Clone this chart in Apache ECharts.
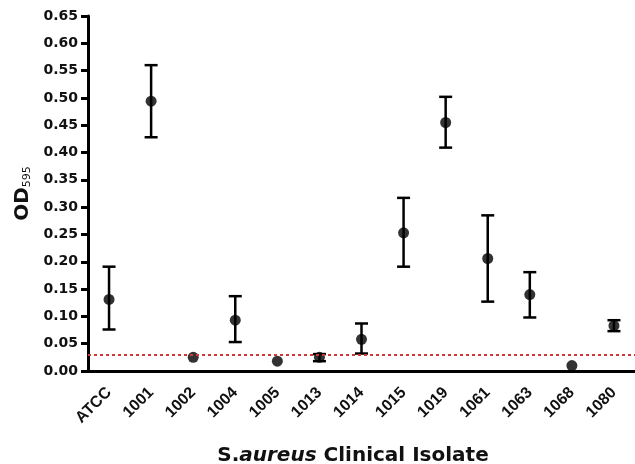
<!DOCTYPE html>
<html>
<head>
<meta charset="utf-8">
<script src="https://cdn.jsdelivr.net/npm/echarts@6/dist/echarts.min.js"></script>
<style>
  html, body { margin: 0; padding: 0; background: #fff; }
  #chart { width: 635px; height: 464px; }
</style>
</head>
<body>
<div id="chart"></div>
<script>
/* Biofilm OD595 per S. aureus isolate, mean with error bars */
const categories = ["ATCC", "1001", "1002", "1004", "1005", "1013", "1014", "1015", "1019", "1061", "1063", "1068", "1080"];
const means = [0.131, 0.494, 0.025, 0.093, 0.018, 0.025, 0.058, 0.253, 0.455, 0.206, 0.140, 0.010, 0.083];
const errLow = [0.076, 0.428, 0.025, 0.053, 0.018, 0.018, 0.032, 0.191, 0.409, 0.127, 0.098, 0.010, 0.073];
const errHigh = [0.191, 0.560, 0.025, 0.137, 0.018, 0.031, 0.087, 0.317, 0.502, 0.285, 0.181, 0.010, 0.093];
const cutoff = 0.028;

const FONT = "DejaVu Sans";
const LABEL_FONT = "Liberation Sans";

const chart = echarts.init(document.getElementById("chart"), null, { renderer: "canvas" });

const errData = categories.map(function (c, i) {
  return [i, errLow[i], errHigh[i]];
});

chart.setOption({
  animation: false,
  backgroundColor: "#fff",
  title: {
    text: "{n|S.}{i|aureus}{n| Clinical Isolate}",
    left: 348,
    top: 441,
    textAlign: "center",
    textStyle: {
      rich: {
        n: { fontFamily: FONT, fontWeight: "bold", fontSize: 20, color: "#111" },
        i: { fontFamily: FONT, fontWeight: "bold", fontStyle: "italic", fontSize: 20, color: "#111" },
      },
    },
  },
  grid: { left: 88, top: 16, width: 550, height: 355 },
  xAxis: {
    type: "category",
    data: categories,
    boundaryGap: true,
    axisLine: { lineStyle: { color: "#000", width: 3 } },
    axisTick: { alignWithLabel: true, length: 8, lineStyle: { color: "#000", width: 3 } },
    axisLabel: {
      rotate: 45,
      margin: 19,
      interval: 0,
      color: "#111",
      fontFamily: LABEL_FONT,
      fontWeight: "bold",
      fontSize: 16,
    },
    splitLine: { show: false },
  },
  yAxis: {
    type: "value",
    min: 0,
    max: 0.65,
    interval: 0.05,
    name: "{a|OD}{b|595}",
    nameLocation: "middle",
    nameRotate: 90,
    nameGap: 54,
    nameTextStyle: {
      rich: {
        a: { fontFamily: FONT, fontWeight: "bold", fontSize: 20, color: "#111", verticalAlign: "bottom", lineHeight: 22 },
        b: { fontFamily: FONT, fontSize: 11, color: "#111", verticalAlign: "bottom", lineHeight: 22 },
      },
    },
    axisLine: { show: true, lineStyle: { color: "#000", width: 3 } },
    axisTick: { show: true, length: 7, lineStyle: { color: "#000", width: 3 } },
    axisLabel: {
      margin: 10,
      color: "#111",
      fontFamily: FONT,
      fontWeight: "bold",
      fontSize: 14,
      formatter: function (v) { return v.toFixed(2); },
    },
    splitLine: { show: false },
  },
  series: [
    {
      type: "custom",
      name: "error",
      data: errData,
      z: 3,
      renderItem: function (params, api) {
        const x = api.coord([api.value(0), 0])[0];
        const lo = api.coord([api.value(0), api.value(1)])[1];
        const hi = api.coord([api.value(0), api.value(2)])[1];
        if (hi === lo) {
          return null;
        }
        const half = 6.5;
        const style = { stroke: "#000", lineWidth: 2.5, fill: null };
        return {
          type: "group",
          children: [
            { type: "line", shape: { x1: x, y1: lo, x2: x, y2: hi }, style: style },
            { type: "line", shape: { x1: x - half, y1: hi, x2: x + half, y2: hi }, style: style },
            { type: "line", shape: { x1: x - half, y1: lo, x2: x + half, y2: lo }, style: style },
          ],
        };
      },
    },
    {
      type: "scatter",
      name: "mean",
      data: means,
      symbol: "circle",
      symbolSize: 11,
      itemStyle: { color: "#000" },
      z: 4,
      markLine: {
        silent: true,
        symbol: "none",
        label: { show: false },
        lineStyle: { color: "#d03838", width: 2, type: [3, 3] },
        data: [{ yAxis: cutoff }],
      },
    },
  ],
});
</script>
</body>
</html>
